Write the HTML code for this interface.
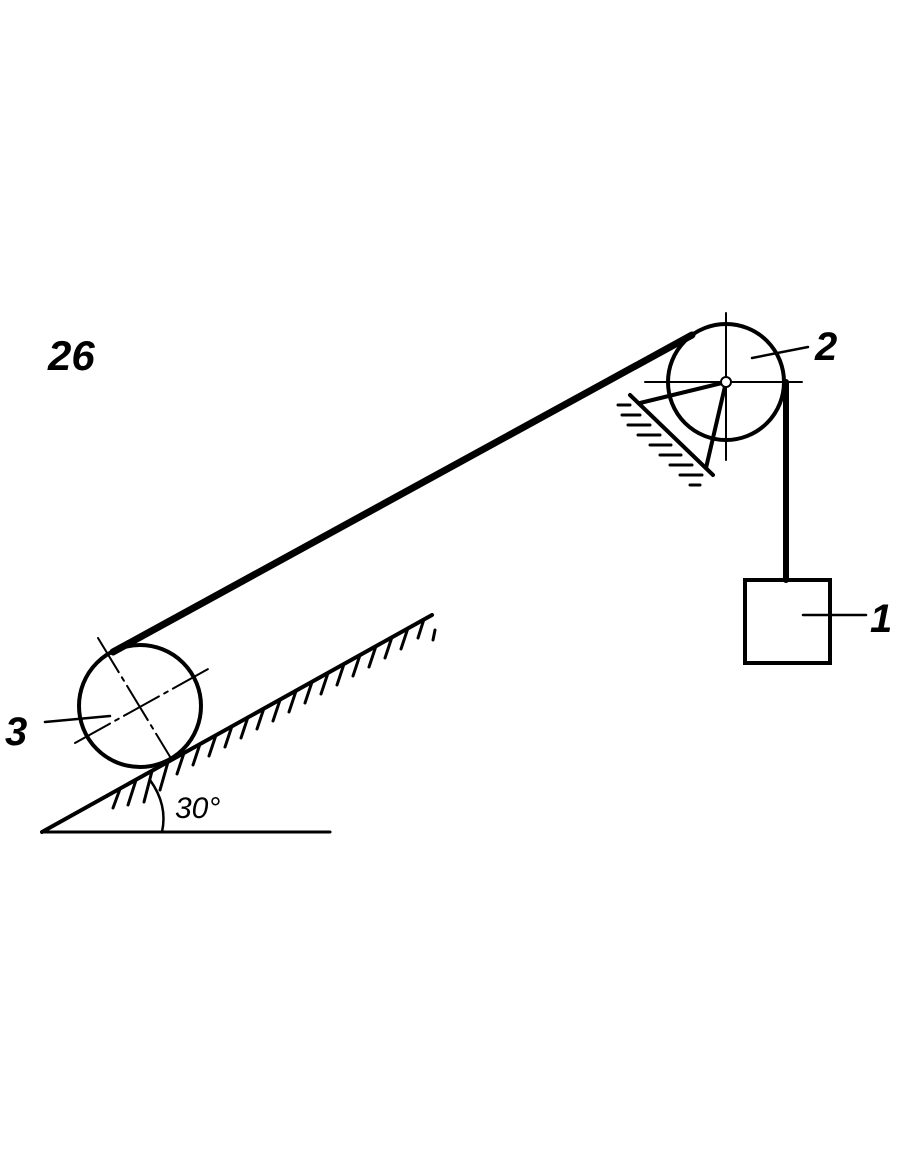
<!DOCTYPE html>
<html><head><style>body{margin:0;background:#fff}</style></head><body>
<svg width="910" height="1155" xmlns="http://www.w3.org/2000/svg" style="display:block">
<g stroke="#000" fill="none" stroke-linecap="round">
<!-- rope -->
<line x1="113" y1="652" x2="692" y2="335" stroke-width="7"/>
<line x1="786" y1="382" x2="786" y2="580" stroke-width="6"/>
<!-- pulley 2 -->
<circle cx="726" cy="382" r="58" stroke-width="4"/>
<line x1="645" y1="382" x2="802" y2="382" stroke-width="2"/>
<line x1="726" y1="313" x2="726" y2="460" stroke-width="2"/>
<line x1="726" y1="382" x2="640" y2="403" stroke-width="4"/>
<line x1="726" y1="382" x2="706" y2="468" stroke-width="4"/>
<line x1="630" y1="395" x2="713" y2="475" stroke-width="4"/>
<g stroke-width="3">
<line x1="630" y1="405" x2="618" y2="405"/><line x1="640" y1="415" x2="622" y2="415"/>
<line x1="650" y1="425" x2="628" y2="425"/><line x1="660" y1="435" x2="638" y2="435"/>
<line x1="671" y1="445" x2="650" y2="445"/><line x1="681" y1="455" x2="660" y2="455"/>
<line x1="692" y1="465" x2="670" y2="465"/><line x1="702" y1="475" x2="680" y2="475"/>
<line x1="700" y1="485" x2="690" y2="485"/>
</g>
<circle cx="726" cy="382" r="5" fill="#fff" stroke-width="2"/>
<line x1="752" y1="358" x2="808" y2="347" stroke-width="2.5"/>
<!-- box -->
<rect x="745" y="580" width="85" height="83" stroke-width="4"/>
<line x1="803" y1="615" x2="866" y2="615" stroke-width="2.5"/>
<!-- incline -->
<line x1="42" y1="832" x2="432" y2="615" stroke-width="4"/>
<line x1="42" y1="832" x2="330" y2="832" stroke-width="3"/>
<g stroke-width="3">
<line x1="120" y1="789" x2="113" y2="808"/><line x1="136" y1="780" x2="128" y2="805"/>
<line x1="152" y1="771" x2="144" y2="802"/><line x1="168" y1="762" x2="160" y2="790"/>
<line x1="184" y1="753" x2="177" y2="774"/><line x1="200" y1="744" x2="193" y2="765"/>
<line x1="216" y1="735" x2="209" y2="756"/><line x1="232" y1="726" x2="225" y2="747"/>
<line x1="248" y1="717" x2="241" y2="738"/><line x1="264" y1="708" x2="257" y2="729"/>
<line x1="280" y1="700" x2="273" y2="721"/><line x1="296" y1="691" x2="289" y2="712"/>
<line x1="312" y1="682" x2="305" y2="703"/><line x1="328" y1="673" x2="321" y2="694"/>
<line x1="344" y1="664" x2="337" y2="685"/><line x1="360" y1="655" x2="353" y2="676"/>
<line x1="376" y1="646" x2="369" y2="667"/><line x1="392" y1="637" x2="385" y2="658"/>
<line x1="408" y1="628" x2="401" y2="649"/><line x1="424" y1="619" x2="418" y2="638"/>
<line x1="435" y1="630" x2="433" y2="640"/>
</g>
<path d="M150 780 Q168 805 162 832" stroke-width="2.5"/>
<!-- cylinder 3 -->
<circle cx="140" cy="706" r="61" stroke-width="4"/>
<line x1="98" y1="638" x2="172" y2="760" stroke-width="2" stroke-dasharray="40 6 4 6"/>
<line x1="75" y1="743" x2="210" y2="668" stroke-width="2" stroke-dasharray="40 6 4 6"/>
<line x1="45" y1="722" x2="110" y2="716" stroke-width="2.5"/>
</g>
<g font-family="Liberation Sans, sans-serif" font-style="italic" font-weight="bold" fill="#000">
<text x="48" y="370" font-size="42">26</text>
<text x="815" y="360" font-size="40">2</text>
<text x="870" y="632" font-size="40">1</text>
<text x="5" y="745" font-size="40">3</text>
<text x="175" y="818" font-size="30" font-weight="normal">30°</text>
</g>
</svg>
</body></html>
